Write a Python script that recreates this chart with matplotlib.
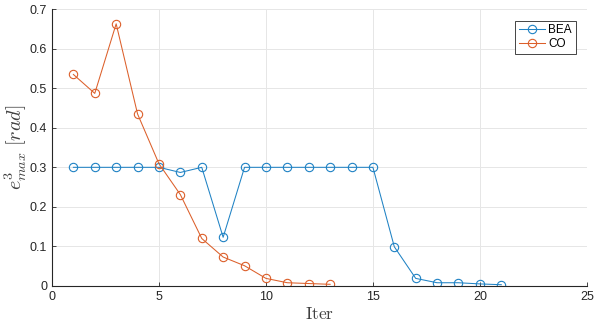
import matplotlib
matplotlib.use("Agg")
import matplotlib.pyplot as plt

iters_bea = list(range(1, 22))
bea = [0.300, 0.300, 0.300, 0.300, 0.300, 0.287, 0.300, 0.123, 0.300, 0.300,
       0.300, 0.300, 0.300, 0.300, 0.300, 0.099, 0.019, 0.008, 0.008, 0.005, 0.003]
iters_co = list(range(1, 14))
co = [0.535, 0.487, 0.663, 0.435, 0.309, 0.231, 0.120, 0.073, 0.051, 0.019,
      0.008, 0.006, 0.004]

plt.rcParams['font.family'] = ['Liberation Sans', 'DejaVu Sans']
plt.rcParams['mathtext.fontset'] = 'cm'

fig = plt.figure(figsize=(5.94, 3.29), dpi=100)
ax = fig.add_axes([0.0875, 0.131, 0.9005, 0.841])

blue = '#1f82c4'
orange = '#dc5f2a'
ax.plot(iters_bea, bea, '-o', color=blue, mfc='none', ms=6, lw=0.75, mew=0.8, label='BEA')
ax.plot(iters_co, co, '-o', color=orange, mfc='none', ms=6, lw=0.75, mew=0.8, label='CO')

ax.set_xlim(0, 25)
ax.set_ylim(0, 0.7)
ax.set_xticks([0, 5, 10, 15, 20, 25])
ax.set_yticks([0, 0.1, 0.2, 0.3, 0.4, 0.5, 0.6, 0.7])
ax.set_yticklabels(['0', '0.1', '0.2', '0.3', '0.4', '0.5', '0.6', '0.7'])
ax.grid(True, color='#e6e6e6', lw=0.7)
ax.set_axisbelow(True)
for s in ['top', 'right']:
    ax.spines[s].set_visible(False)
for s in ['left', 'bottom']:
    ax.spines[s].set_color('#262626')
    ax.spines[s].set_linewidth(0.8)
ax.tick_params(direction='in', length=3, colors='#262626', labelsize=9, width=0.6)

ax.set_xlabel(r'$\mathrm{Iter}$', fontsize=12.5, labelpad=2, color='#404040')
ax.set_ylabel(r'$e^3_{max}\ [rad]$', fontsize=14.5, labelpad=0.5, color='#404040')

leg = ax.legend(loc='upper right', bbox_to_anchor=(0.979, 0.959), borderaxespad=0,
                fontsize=8.5, fancybox=False, edgecolor='#262626', framealpha=1,
                handlelength=2.2, handletextpad=0.3, borderpad=0.3, labelspacing=0.2)
leg.get_frame().set_linewidth(0.6)

fig.savefig('out.png', dpi=100)
